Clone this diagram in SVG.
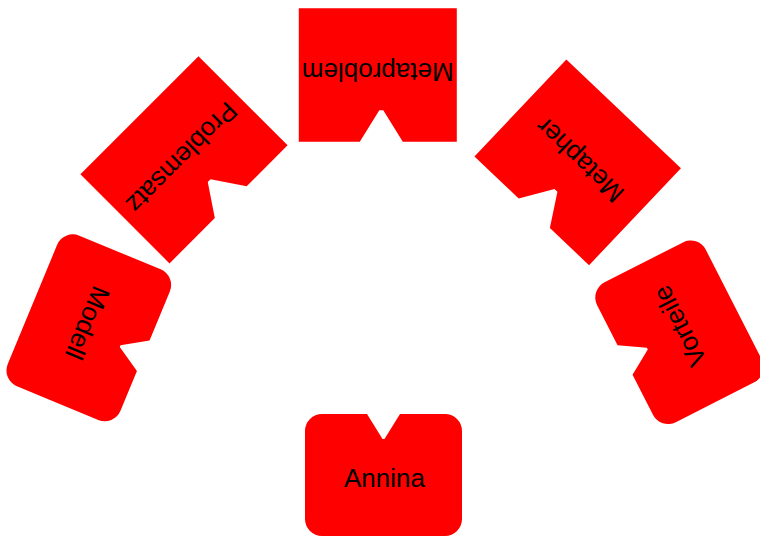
<svg xmlns="http://www.w3.org/2000/svg" width="760" height="537" viewBox="0 0 760 537">
<style>
.shape{fill:#ff0000;stroke:none}
.lbl{font-family:"Liberation Sans",Arial,sans-serif;font-size:26px;fill:#000;text-anchor:middle}
</style>
<defs>
<path id="rnd" d="M -61.5 -61 L -16.5 -61 L -1 -36 L 1 -36 L 16.5 -61 L 61.5 -61 A 17 17 0 0 1 78.5 -44 L 78.5 44 A 17 17 0 0 1 61.5 61 L -61.5 61 A 17 17 0 0 1 -78.5 44 L -78.5 -44 A 17 17 0 0 1 -61.5 -61 Z"/>
<path id="rndw" d="M -64.5 -61 L -11.5 -61 L 4 -36 L 6 -36 L 21.5 -61 L 64.5 -61 A 17 17 0 0 1 81.5 -44 L 81.5 44 A 17 17 0 0 1 64.5 61 L -64.5 61 A 17 17 0 0 1 -81.5 44 L -81.5 -44 A 17 17 0 0 1 -64.5 -61 Z"/>
<path id="sq" d="M -79 -66.75 L -25 -66.75 L -5.5 -35.25 L -1.5 -35.25 L 18 -66.75 L 79 -66.75 L 79 66.75 L -79 66.75 Z"/>
<path id="sqw" d="M -83.5 -63 L -25.6 -63 L -5.1 -32.5 L -1.1 -32.5 L 19.4 -63 L 83.5 -63 L 83.5 63 L -83.5 63 Z"/>
</defs>
<g id="connectors"></g>
<g id="annina" transform="translate(383.5,475)">
<use href="#rnd" class="shape"/>
<text class="lbl" x="1" y="12">Annina</text>
</g>
<g id="modell" transform="translate(88.8,327.8) rotate(112.5)">
<use href="#rndw" class="shape"/>
<text class="lbl" x="-4" y="12">Modell</text>
</g>
<g id="vorteile" transform="translate(679.4,332.3) rotate(243)">
<use href="#rnd" class="shape"/>
<text class="lbl" x="5.5" y="12">Vorteile</text>
</g>
<g id="metaproblem" transform="translate(377.8,75) rotate(180)">
<use href="#sq" class="shape"/>
<text class="lbl" x="0" y="12">Metaproblem</text>
</g>
<g id="problemsatz" transform="translate(184,159.8) rotate(135)">
<use href="#sqw" class="shape"/>
<text class="lbl" x="0" y="12">Problemsatz</text>
</g>
<g id="metapher" transform="translate(577.7,162.4) rotate(223.5)">
<use href="#sq" class="shape"/>
<text class="lbl" x="0" y="12">Metapher</text>
</g>
</svg>
